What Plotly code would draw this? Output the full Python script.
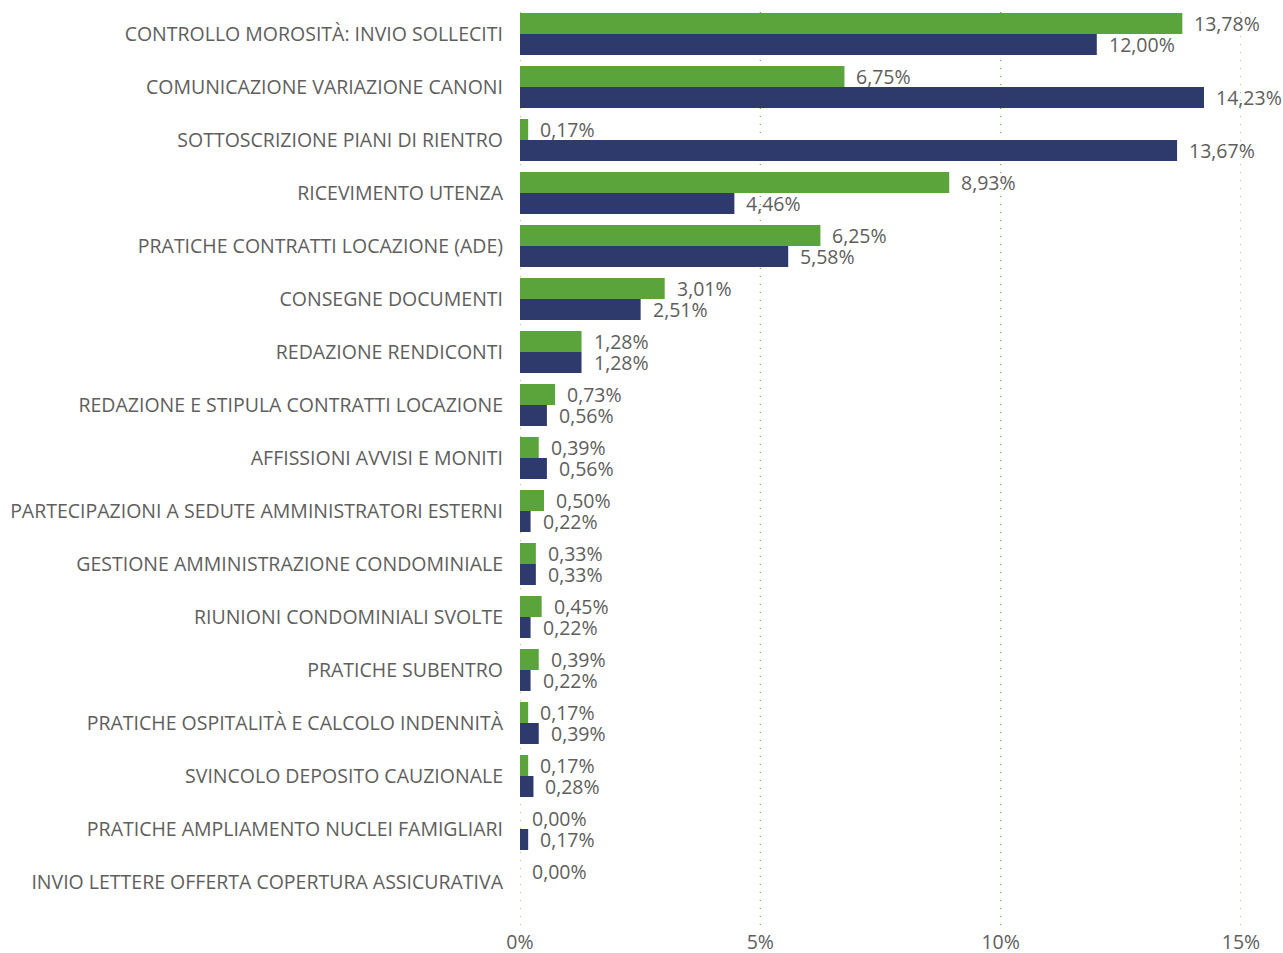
import plotly.graph_objects as go

categories = [
    "CONTROLLO MOROSITÀ: INVIO SOLLECITI",
    "COMUNICAZIONE VARIAZIONE CANONI",
    "SOTTOSCRIZIONE PIANI DI RIENTRO",
    "RICEVIMENTO UTENZA",
    "PRATICHE CONTRATTI LOCAZIONE (ADE)",
    "CONSEGNE DOCUMENTI",
    "REDAZIONE RENDICONTI",
    "REDAZIONE E STIPULA CONTRATTI LOCAZIONE",
    "AFFISSIONI AVVISI E MONITI",
    "PARTECIPAZIONI A SEDUTE AMMINISTRATORI ESTERNI",
    "GESTIONE AMMINISTRAZIONE CONDOMINIALE",
    "RIUNIONI CONDOMINIALI SVOLTE",
    "PRATICHE SUBENTRO",
    "PRATICHE OSPITALITÀ E CALCOLO INDENNITÀ",
    "SVINCOLO DEPOSITO CAUZIONALE",
    "PRATICHE AMPLIAMENTO NUCLEI FAMIGLIARI",
    "INVIO LETTERE OFFERTA COPERTURA ASSICURATIVA",
]

serie_1 = [13.78, 6.75, 0.17, 8.93, 6.25, 3.01, 1.28, 0.73, 0.39, 0.50,
           0.33, 0.45, 0.39, 0.17, 0.17, 0.00, 0.00]
serie_2 = [12.00, 14.23, 13.67, 4.46, 5.58, 2.51, 1.28, 0.56, 0.56, 0.22,
           0.33, 0.22, 0.22, 0.39, 0.28, 0.17, None]

x_ticks = [0, 5, 10, 15]
x_tick_labels = [f"{t}%" for t in x_ticks]

GREEN = "#5BA33B"
NAVY = "#2E3A6B"
GRID = "#72B044"
TEXT = "#605E5C"
FONT = "Open Sans"
SIZE = 19.5


def fmt(v):
    return f"{v:.2f}".replace(".", ",") + "%"


idx = list(range(len(categories)))

fig = go.Figure()
fig.add_trace(go.Bar(name="Serie 1", y=idx, x=serie_1, orientation="h",
                     marker=dict(color=GREEN, line=dict(width=0)),
                     hoverinfo="x+y"))
fig.add_trace(go.Bar(name="Serie 2", y=idx, x=serie_2, orientation="h",
                     marker=dict(color=NAVY, line=dict(width=0)),
                     hoverinfo="x+y"))

# value labels just past the end of each bar
annotations = []
for series, shift in ((serie_1, 11), (serie_2, -10)):
    for i, v in enumerate(series):
        if v is None:
            continue
        annotations.append(dict(
            x=v, y=i, xref="x", yref="y", text=fmt(v), showarrow=False,
            xanchor="left", yanchor="middle", xshift=11, yshift=shift,
            borderpad=0,
            font=dict(family=FONT, size=SIZE, color=TEXT),
        ))

# dotted vertical guides at each tick (drawn below the bars)
shapes = [
    dict(type="line", xref="x", yref="paper", x0=t, x1=t, y0=0, y1=1,
         layer="below", line=dict(color=GRID, width=1.3, dash="1px,7px"))
    for t in x_ticks
]

ROW = 53.0
TOP, BOTTOM = 5, 925
first_center = 34
last_center = first_center + ROW * (len(categories) - 1)

fig.update_layout(
    width=1283, height=953,
    margin=dict(l=520, r=42, t=TOP, b=953 - BOTTOM, pad=0, autoexpand=False),
    paper_bgcolor="white", plot_bgcolor="white",
    barmode="group", bargap=11 / 53, bargroupgap=0,
    showlegend=False,
    font=dict(family=FONT, size=SIZE, color=TEXT),
    annotations=annotations,
    shapes=shapes,
    xaxis=dict(
        range=[0, 15], tickvals=x_ticks, ticktext=x_tick_labels,
        showgrid=False, zeroline=False, showline=False, ticks="",
        ticklabelstandoff=3, automargin=False,
        tickfont=dict(family=FONT, size=SIZE, color=TEXT),
        fixedrange=True,
    ),
    yaxis=dict(
        tickvals=idx, ticktext=categories,
        range=[len(categories) - 1 + (BOTTOM - last_center) / ROW,
               -(first_center - TOP) / ROW],
        showgrid=False, zeroline=False, showline=False, ticks="",
        ticklabelstandoff=16, automargin=False,
        tickfont=dict(family=FONT, size=SIZE, color=TEXT),
        fixedrange=True,
    ),
)

fig.write_html("out.html")
